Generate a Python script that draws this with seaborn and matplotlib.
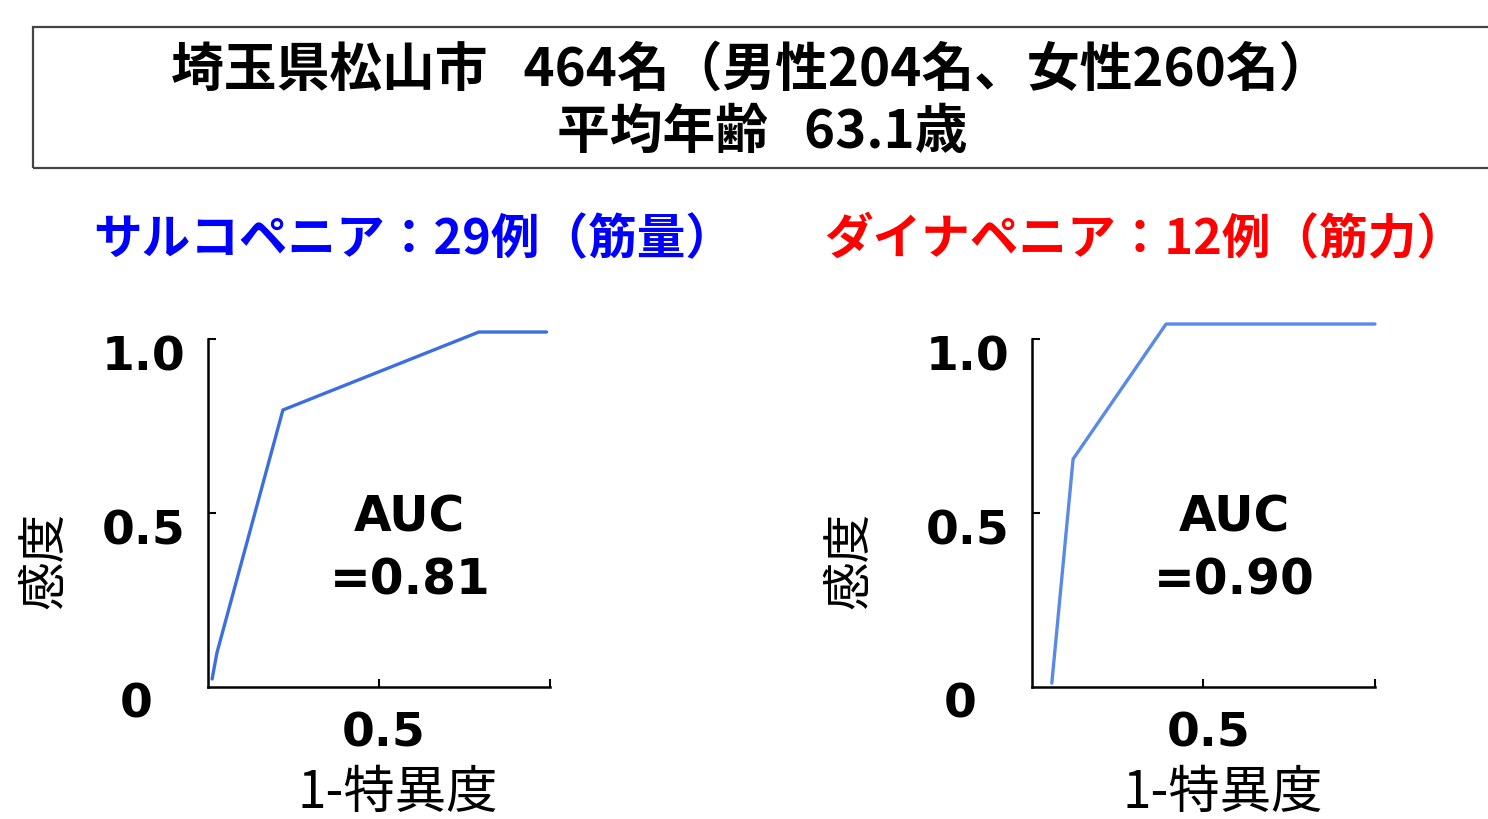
import matplotlib
matplotlib.use('Agg')
import matplotlib.pyplot as plt
import matplotlib.transforms as mtransforms
from matplotlib.patches import Rectangle
import pandas as pd
import seaborn as sns

sns.set_style('ticks')
plt.rcParams['font.family'] = ['Noto Sans CJK JP', 'DejaVu Sans']
plt.rcParams['text.color'] = 'black'
plt.rcParams['xtick.color'] = 'black'
plt.rcParams['ytick.color'] = 'black'

# header text
title_line1 = '埼玉県松山市   464名（男性204名、女性260名）'
title_line2 = '平均年齢   63.1歳'
panel_titles = ['サルコペニア：29例（筋量）', 'ダイナペニア：12例（筋力）']
panel_title_colors = ['#0000ff', '#ff0000']

# ROC points: 1-specificity vs sensitivity
sarco_fpr = [0.012, 0.026, 0.219, 0.792, 0.99]
sarco_tpr = [0.023, 0.098, 0.796, 1.020, 1.020]
dyna_fpr = [0.058, 0.120, 0.391, 1.0]
dyna_tpr = [0.011, 0.655, 1.043, 1.043]
auc_values = ['0.81', '0.90']
line_colors = ['#3b6fe0', '#5a8ae8']

ytick_vals = [0.5, 1.0]
ytick_labels = ['0.5', '1.0']
xtick_vals = [0.5, 1.0]
xtick_labels = ['0.5', '']

fig = plt.figure(figsize=(14.88, 8.19), dpi=100)

# boxed header
fig.patches.append(Rectangle((0.0222, 0.795), 1.0, 0.172, transform=fig.transFigure,
                             fill=False, edgecolor='#444444', linewidth=1.6))
fig.text(0.505, 0.914, title_line1, ha='center', va='center', fontsize=38, fontweight='bold')
fig.text(0.512, 0.838, title_line2, ha='center', va='center', fontsize=38, fontweight='bold')

fig.text(0.2782, 0.708, panel_titles[0], ha='center', va='center', fontsize=35,
         fontweight='bold', color=panel_title_colors[0])
fig.text(0.7694, 0.708, panel_titles[1], ha='center', va='center', fontsize=35,
         fontweight='bold', color=panel_title_colors[1])

ax1 = fig.add_axes([0.1398, 0.1612, 0.2298, 0.4249])
ax2 = fig.add_axes([0.6935, 0.1612, 0.2305, 0.4249])

curves = [(sarco_fpr, sarco_tpr), (dyna_fpr, dyna_tpr)]
ylab_x = [-0.477, -0.531]

for i, ax in enumerate([ax1, ax2]):
    df = pd.DataFrame({'fpr': curves[i][0], 'tpr': curves[i][1]})
    sns.lineplot(data=df, x='fpr', y='tpr', ax=ax, sort=False, color=line_colors[i],
                 linewidth=2.4)
    for ln in ax.lines:
        ln.set_clip_on(False)
    ax.set_xlim(0, 1)
    ax.set_ylim(0, 1)
    ax.set_xlabel('')
    ax.set_ylabel('')
    sns.despine(ax=ax)
    for s in ['left', 'bottom']:
        ax.spines[s].set_linewidth(1.8)
        ax.spines[s].set_color('black')
    ax.set_yticks(ytick_vals)
    ax.set_yticklabels(ytick_labels, fontsize=34, fontweight='bold', family='DejaVu Sans')
    ax.set_xticks(xtick_vals)
    ax.set_xticklabels(xtick_labels, fontsize=34, fontweight='bold', family='DejaVu Sans')
    ax.tick_params(direction='in', length=6, width=1.5, color='black', labelcolor='black')
    ax.tick_params(axis='y', pad=16)
    ax.tick_params(axis='x', pad=18)
    shift = mtransforms.ScaledTranslation(0, -0.14, fig.dpi_scale_trans)
    for lab in ax.get_yticklabels():
        lab.set_transform(lab.get_transform() + shift)
    xshift = mtransforms.ScaledTranslation(0.05, 0, fig.dpi_scale_trans)
    for lab in ax.get_xticklabels():
        lab.set_transform(lab.get_transform() + xshift)

    ax.text(-0.21, -0.052, '0', transform=ax.transAxes, ha='center', va='center',
            fontsize=34, fontweight='bold', family='DejaVu Sans')
    ax.text(ylab_x[i], 0.365, '感度', transform=ax.transAxes, rotation=90,
            ha='center', va='center', fontsize=35)
    ax.text(0.556, -0.305, '1-特異度', transform=ax.transAxes, ha='center', va='center',
            fontsize=37)
    ax.text(0.59, 0.486, 'AUC', transform=ax.transAxes, ha='center', va='center',
            fontsize=35, fontweight='bold', family='DejaVu Sans')
    ax.text(0.59, 0.307, '=' + auc_values[i], transform=ax.transAxes, ha='center',
            va='center', fontsize=35, fontweight='bold', family='DejaVu Sans')

fig.savefig('out.png', dpi=100)
